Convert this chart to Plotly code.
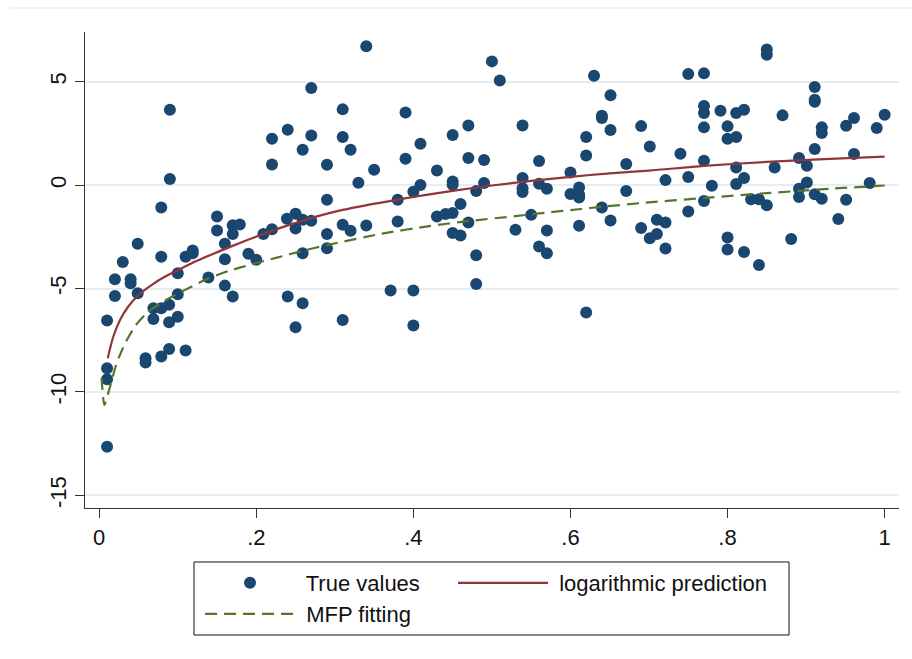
import plotly.graph_objects as go

# ---- data ----
true_x = [0.010, 0.010, 0.010, 0.010, 0.020, 0.020, 0.030, 0.040, 0.040, 0.049,
          0.049, 0.059, 0.059, 0.069, 0.069, 0.079, 0.079, 0.079, 0.079, 0.089,
          0.089, 0.089, 0.090, 0.090, 0.100, 0.100, 0.100, 0.110, 0.110, 0.119,
          0.119, 0.139, 0.150, 0.150, 0.160, 0.160, 0.160, 0.170, 0.170, 0.170,
          0.179, 0.190, 0.200, 0.209, 0.220, 0.220, 0.220, 0.240, 0.239, 0.240,
          0.250, 0.250, 0.250, 0.259, 0.259, 0.259, 0.259, 0.270, 0.270, 0.270,
          0.290, 0.290, 0.290, 0.290, 0.310, 0.310, 0.310, 0.310, 0.320, 0.320,
          0.330, 0.340, 0.340, 0.350, 0.371, 0.380, 0.380, 0.390, 0.390, 0.400,
          0.400, 0.400, 0.409, 0.409, 0.430, 0.430, 0.441, 0.450, 0.450, 0.450,
          0.450, 0.450, 0.460, 0.460, 0.470, 0.470, 0.470, 0.480, 0.480, 0.480,
          0.490, 0.490, 0.500, 0.510, 0.530, 0.539, 0.539, 0.539, 0.539, 0.550,
          0.560, 0.560, 0.560, 0.570, 0.570, 0.570, 0.600, 0.600, 0.611, 0.611,
          0.611, 0.611, 0.620, 0.620, 0.620, 0.630, 0.640, 0.640, 0.640, 0.651,
          0.651, 0.651, 0.671, 0.671, 0.690, 0.690, 0.701, 0.701, 0.710, 0.710,
          0.721, 0.721, 0.721, 0.740, 0.750, 0.750, 0.750, 0.770, 0.770, 0.770,
          0.770, 0.770, 0.770, 0.780, 0.791, 0.800, 0.800, 0.811, 0.811, 0.821,
          0.811, 0.811, 0.821, 0.800, 0.800, 0.821, 0.840, 0.830, 0.840, 0.850,
          0.850, 0.850, 0.860, 0.870, 0.881, 0.891, 0.901, 0.891, 0.891, 0.901,
          0.911, 0.911, 0.911, 0.911, 0.911, 0.920, 0.920, 0.920, 0.941, 0.951,
          0.961, 0.951, 0.961, 0.981, 0.990, 1.000]
true_y = [-6.55, -8.85, -9.39, -12.65, -4.55, -5.36, -3.72, -4.55, -4.74, -2.84,
          -5.23, -8.37, -8.58, -5.95, -6.47, -1.08, -3.47, -5.95, -8.29, -5.79,
          -6.63, -7.92, 3.64, 0.29, -4.26, -5.28, -6.36, -3.47, -8.00, -3.16,
          -3.30, -4.47, -1.52, -2.19, -2.84, -3.58, -4.86, -1.94, -2.37, -5.39,
          -1.91, -3.32, -3.61, -2.37, 2.24, 1.00, -2.13, 2.68, -1.63, -5.39,
          -1.39, -2.10, -6.87, 1.71, -1.68, -3.29, -5.71, 4.69, 2.40, -1.73,
          0.98, -0.71, -2.37, -3.05, 3.66, 2.32, -1.92, -6.52, 1.71, -2.21,
          0.11, 6.71, -1.95, 0.74, -5.10, -0.71, -1.76, 3.51, 1.27, -0.32,
          -5.10, -6.79, 2.00, 0.00, 0.71, -1.52, -1.40, -1.35, 2.42, 0.17,
          0.01, -2.32, -0.91, -2.44, 2.88, 1.31, -1.81, -0.29, -3.39, -4.78,
          1.21, 0.10, 5.98, 5.06, -2.16, 2.88, 0.34, -0.15, -0.34, -1.44,
          1.16, 0.06, -2.97, -0.18, -2.19, -3.29, 0.61, -0.43, -0.12, -0.47,
          -0.60, -1.97, 2.32, 1.43, -6.16, 5.29, 3.35, 3.24, -1.08, 4.34,
          2.66, -1.71, 1.02, -0.29, 2.85, -2.07, 1.87, -2.57, -2.37, -1.68,
          -1.81, -3.07, 0.24, 1.51, 5.37, 0.39, -1.28, 5.40, 3.82, 3.48,
          2.79, 1.18, -0.77, -0.03, 3.59, 2.84, 2.24, 2.32, 3.48, 3.64,
          0.85, 0.05, 0.34, -2.53, -3.11, -3.23, -3.86, -0.68, -0.68, -0.97,
          6.55, 6.30, 0.85, 3.37, -2.61, 1.31, 0.93, -0.18, -0.58, 0.13,
          4.74, 4.13, 4.03, 1.74, -0.44, 2.79, 2.52, -0.66, -1.64, 2.87,
          3.24, -0.71, 1.50, 0.10, 2.76, 3.40]

log_x = [0.0108, 0.018, 0.0265, 0.037, 0.050, 0.067, 0.084, 0.101, 0.122, 0.147,
         0.173, 0.198, 0.224, 0.249, 0.262, 0.310, 0.380, 0.450, 0.500, 0.550,
         0.600, 0.650, 0.700, 0.770, 0.850, 0.930, 1.000]
log_y = [-8.37, -7.32, -6.52, -5.87, -5.31, -4.82, -4.42, -4.10, -3.70, -3.29,
         -2.89, -2.52, -2.16, -1.84, -1.68, -1.20, -0.70, -0.28, -0.02, 0.20,
         0.40, 0.57, 0.70, 0.93, 1.12, 1.27, 1.38]

mfp_x = [0.003, 0.0066, 0.0137, 0.0223, 0.033, 0.046, 0.063, 0.084, 0.105, 0.135,
         0.165, 0.195, 0.225, 0.262, 0.290, 0.360, 0.420, 0.470, 0.530, 0.570,
         0.610, 0.640, 0.690, 0.770, 0.850, 0.930, 1.000]
mfp_y = [-9.32, -10.63, -9.75, -8.60, -7.65, -6.80, -6.10, -5.58, -5.15, -4.58,
         -4.15, -3.82, -3.52, -3.15, -2.90, -2.35, -1.98, -1.74, -1.50, -1.33,
         -1.17, -1.05, -0.87, -0.62, -0.39, -0.18, -0.02]

x_tickvals = [0, 0.2, 0.4, 0.6, 0.8, 1]
x_ticktext = ["0", ".2", ".4", ".6", ".8", "1"]
y_tickvals = [-15, -10, -5, 0, 5]
y_ticktext = ["-15", "-10", "-5", "0", "5"]

FONT = "Liberation Sans, Arial, Helvetica, sans-serif"
GRID = "#E6EDF1"
INK = "#111111"

fig = go.Figure()
fig.add_trace(go.Scatter(
    x=true_x, y=true_y, mode="markers", name=" True values", legend="legend",
    legendwidth=148,
    marker=dict(color="#1A476F", size=12, line=dict(width=0))))
fig.add_trace(go.Scatter(
    x=log_x, y=log_y, mode="lines", name=" logarithmic prediction", legend="legend",
    line=dict(color="#90353B", width=2.2, shape="spline", smoothing=0.8)))
fig.add_trace(go.Scatter(
    x=mfp_x, y=mfp_y, mode="lines", name=" MFP fitting", legend="legend2",
    line=dict(color="#55752F", width=2.2, dash="12px,7px", shape="spline", smoothing=0.6)))

legend_common = dict(
    orientation="h", xanchor="left", yanchor="top",
    bgcolor="rgba(0,0,0,0)", borderwidth=0,
    font=dict(family=FONT, size=22, color=INK),
    itemwidth=90,
)

fig.update_layout(
    width=912, height=659,
    margin=dict(l=85, r=13, t=32, b=151),
    paper_bgcolor="white", plot_bgcolor="white",
    font=dict(family=FONT, size=22, color=INK),
    showlegend=True,
    legend=dict(x=0.1413, y=-0.1134, **legend_common),
    legend2=dict(x=0.1413, y=-0.1786, **legend_common),
    xaxis=dict(
        range=[-0.0181, 1.0183], tickvals=x_tickvals, ticktext=x_ticktext,
        showgrid=False, zeroline=False, showline=True, linecolor="#333333",
        linewidth=1.3, ticks="outside", ticklen=9, tickwidth=1.3, tickcolor="#333333",
    ),
    yaxis=dict(
        range=[-15.61, 7.40], tickvals=y_tickvals, ticktext=y_ticktext,
        tickangle=-90, showgrid=True, gridcolor=GRID, gridwidth=1.6,
        zeroline=False, showline=True, linecolor="#333333", linewidth=1.3,
        ticks="outside", ticklen=9, tickwidth=1.3, tickcolor="#333333",
    ),
    shapes=[
        dict(type="line", xref="paper", yref="paper",
             x0=-0.092, x1=1.016, y0=1.0504, y1=1.0504,
             line=dict(color="#E8EEF2", width=1.5)),
        # legend frame
        dict(type="rect", xref="paper", yref="paper", layer="below",
             x0=0.1339, x1=0.8649, y0=-0.1134, y1=-0.2668,
             line=dict(color=INK, width=1), fillcolor="white"),
    ],
)

fig.write_html("out.html")
